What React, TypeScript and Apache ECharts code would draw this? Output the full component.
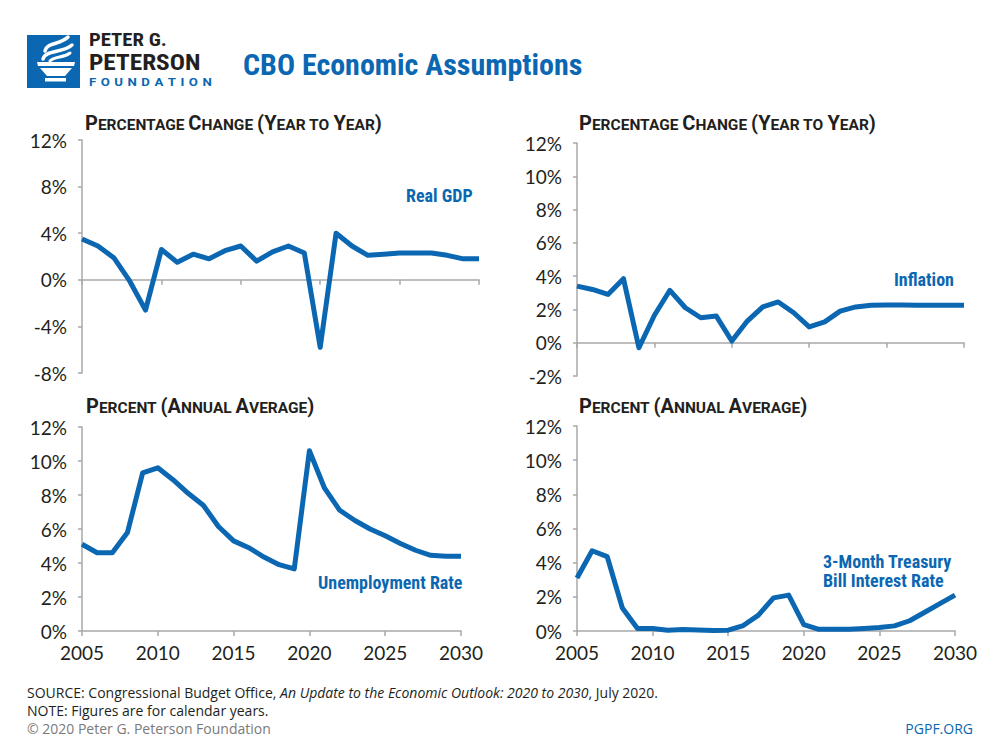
import React, { useEffect, useRef } from "react";
import * as echarts from "echarts";

const years = [2005, 2006, 2007, 2008, 2009, 2010, 2011, 2012, 2013, 2014, 2015, 2016, 2017, 2018, 2019, 2020, 2021, 2022, 2023, 2024, 2025, 2026, 2027, 2028, 2029, 2030];
const realGdp = [3.5, 2.9, 1.9, -0.1, -2.6, 2.6, 1.5, 2.2, 1.8, 2.5, 2.9, 1.6, 2.4, 2.9, 2.3, -5.8, 4.0, 2.9, 2.1, 2.2, 2.3, 2.3, 2.3, 2.1, 1.8, 1.8];
const inflation = [3.4, 3.2, 2.9, 3.85, -0.3, 1.65, 3.15, 2.1, 1.5, 1.6, 0.1, 1.3, 2.15, 2.45, 1.8, 0.95, 1.25, 1.9, 2.15, 2.25, 2.27, 2.27, 2.25, 2.25, 2.25, 2.25];
const unemployment = [5.1, 4.6, 4.6, 5.8, 9.3, 9.6, 8.9, 8.1, 7.4, 6.15, 5.3, 4.9, 4.35, 3.9, 3.65, 10.6, 8.4, 7.1, 6.5, 6.0, 5.6, 5.15, 4.75, 4.45, 4.4, 4.4];
const tBill = [3.1, 4.7, 4.35, 1.35, 0.15, 0.14, 0.05, 0.09, 0.06, 0.03, 0.05, 0.32, 0.93, 1.94, 2.1, 0.37, 0.1, 0.1, 0.1, 0.15, 0.2, 0.3, 0.6, 1.1, 1.6, 2.1];

const gdpTicks = { min: -8, max: 12, interval: 4 };
const inflationTicks = { min: -2, max: 12, interval: 2 };
const rateTicks = { min: 0, max: 12, interval: 2 };
const yearTicks = { min: 2005, max: 2030, interval: 5 };

const BLUE = "#0b67b2";
const DARK = "#231f20";
const GRAY = "#a9a9a9";
const COND = "'Roboto Condensed', 'Liberation Sans Narrow', 'DejaVu Sans Condensed', Roboto, sans-serif";
const WIDE = "Roboto, 'Noto Sans', sans-serif";
const FOOT = "'Open Sans', 'Noto Sans', sans-serif";
const AXISFONT = "Lato, 'Noto Sans', sans-serif";

function pairs(vals: number[]) {
  return years.map((y, i) => [y, vals[i]]);
}

function xAxis(gridIndex: number, showLabel: boolean) {
  return {
    type: "value",
    gridIndex,
    min: yearTicks.min,
    max: yearTicks.max,
    interval: yearTicks.interval,
    axisLine: { show: true, onZero: true, lineStyle: { color: GRAY, width: 1.5 } },
    axisTick: { show: true, length: 5, lineStyle: { color: GRAY, width: 1.5 } },
    splitLine: { show: false },
    axisLabel: {
      show: showLabel,
      formatter: (v: number) => String(v),
      color: DARK,
      fontFamily: AXISFONT,
      fontSize: 19,
      margin: 12,
    },
  };
}

function yAxis(gridIndex: number, t: { min: number; max: number; interval: number }) {
  return {
    type: "value",
    gridIndex,
    min: t.min,
    max: t.max,
    interval: t.interval,
    axisLine: { show: true, lineStyle: { color: GRAY, width: 1.5 } },
    axisTick: { show: true, length: 4, lineStyle: { color: GRAY, width: 1.5 } },
    splitLine: { show: false },
    axisLabel: {
      formatter: (v: number) => v + "%",
      color: DARK,
      fontFamily: AXISFONT,
      fontSize: 19,
      margin: 15,
    },
  };
}

function series(i: number, name: string, vals: number[]) {
  return {
    type: "line",
    name,
    xAxisIndex: i,
    yAxisIndex: i,
    data: pairs(vals),
    showSymbol: false,
    symbol: "none",
    lineStyle: { color: BLUE, width: 5, join: "round" },
    z: 5,
  };
}

function smallCaps(parts: [string, string][]) {
  return parts.map(([a, b]) => (a ? `{a|${a}}` : "") + (b ? `{b|${b}}` : "")).join("");
}

const capsRich = {
  a: { fontFamily: WIDE, fontWeight: "bold", fontSize: 20, fill: DARK, color: DARK, lineHeight: 20, verticalAlign: "bottom" },
  b: { fontFamily: WIDE, fontWeight: "bold", fontSize: 15.5, fill: DARK, color: DARK, lineHeight: 16, verticalAlign: "bottom" },
};

const titleTop = smallCaps([["P", "ERCENTAGE "], ["C", "HANGE "], ["(Y", "EAR TO "], ["Y", "EAR"], [")", ""]]);
const titleBottom = smallCaps([["P", "ERCENT "], ["(A", "NNUAL "], ["A", "VERAGE"], [")", ""]]);

function capsText(x: number, y: number, text: string) {
  return {
    type: "text",
    x,
    y,
    style: { text, rich: capsRich, textVerticalAlign: "bottom", textAlign: "left" },
  };
}

function label(x: number, y: number, text: string) {
  return {
    type: "text",
    x,
    y,
    style: { text, fill: BLUE, font: `bold 18px ${COND}`, textAlign: "left", textVerticalAlign: "middle" },
  };
}

const SP = "\u2004";
const foundation = "FOUNDATION".split("").join(SP);

export default function App() {
  const ref = useRef<HTMLDivElement>(null);
  useEffect(() => {
    if (!ref.current) return;
    const chart = echarts.init(ref.current, null, { renderer: "svg" });
    const white = "#ffffff";
    const option = {
      animation: false,
      backgroundColor: "#ffffff",
      grid: [
        { left: 82, top: 140, width: 397, height: 233 },
        { left: 577, top: 143, width: 387, height: 233 },
        { left: 82, top: 427, width: 379, height: 204 },
        { left: 577, top: 426, width: 378, height: 205 },
      ],
      xAxis: [xAxis(0, false), xAxis(1, false), xAxis(2, true), xAxis(3, true)],
      yAxis: [yAxis(0, gdpTicks), yAxis(1, inflationTicks), yAxis(2, rateTicks), yAxis(3, rateTicks)],
      series: [
        series(0, "Real GDP", realGdp),
        series(1, "Inflation", inflation),
        series(2, "Unemployment Rate", unemployment),
        series(3, "3-Month Treasury Bill Interest Rate", tBill),
      ],
      graphic: [
        // logo
        { type: "rect", shape: { x: 27, y: 35, width: 53, height: 53 }, style: { fill: BLUE } },
        { type: "polygon", shape: { points: [[37, 62], [75, 62], [74, 66], [38, 66]] }, style: { fill: white } },
        { type: "polygon", shape: { points: [[40, 68], [72, 68], [65, 76], [47, 76]] }, style: { fill: white } },
        { type: "rect", shape: { x: 45, y: 78, width: 21, height: 3.5 }, style: { fill: white } },
        { type: "bezierCurve", shape: { x1: 45, y1: 51, cpx1: 47, cpy1: 42, cpx2: 60, cpy2: 45, x2: 68, y2: 37 }, style: { stroke: white, lineWidth: 3.5, fill: null, lineCap: "round" } },
        { type: "bezierCurve", shape: { x1: 43, y1: 59, cpx1: 45, cpy1: 50, cpx2: 63, cpy2: 53, x2: 72, y2: 45 }, style: { stroke: white, lineWidth: 3.5, fill: null, lineCap: "round" } },
        { type: "bezierCurve", shape: { x1: 50, y1: 61, cpx1: 54, cpy1: 56, cpx2: 64, cpy2: 58, x2: 70, y2: 53 }, style: { stroke: white, lineWidth: 3, fill: null, lineCap: "round" } },
        {
          type: "text",
          x: 89,
          y: 29,
          scaleX: 1.15,
          style: {
            text: `{p|PETER G.}\n{q|PETERSON}\n{f|${foundation}}`,
            rich: {
              p: { fontFamily: COND, fontWeight: "bold", fontSize: 18, lineHeight: 21, fill: DARK, color: DARK },
              q: { fontFamily: COND, fontWeight: "bold", fontSize: 22, lineHeight: 26, fill: DARK, color: DARK },
              f: { fontFamily: WIDE, fontWeight: "bold", fontSize: 11.5, lineHeight: 13.5, fill: BLUE, color: BLUE },
            },
            textAlign: "left",
            textVerticalAlign: "top",
          },
        },
        { type: "text", x: 243, y: 64, style: { text: "CBO Economic Assumptions", fill: BLUE, font: `bold 30px ${COND}`, textAlign: "left", textVerticalAlign: "middle" } },
        // panel titles
        capsText(85, 133, titleTop),
        capsText(579, 133, titleTop),
        capsText(86, 416, titleBottom),
        capsText(579, 416, titleBottom),
        // series labels
        label(406, 195, "Real GDP"),
        label(894, 279, "Inflation"),
        label(318, 582, "Unemployment Rate"),
        label(823, 561, "3-Month Treasury"),
        label(823, 580, "Bill Interest Rate"),
        // footer
        {
          type: "text",
          x: 27,
          y: 692,
          style: {
            text: "{n|SOURCE: Congressional Budget Office, }{i|An Update to the Economic Outlook: 2020 to 2030}{n|, July 2020.}",
            rich: {
              n: { fontFamily: FOOT, fontSize: 14, fill: DARK, color: DARK },
              i: { fontFamily: FOOT, fontSize: 14, fontStyle: "italic", fill: DARK, color: DARK },
            },
            textAlign: "left",
            textVerticalAlign: "middle",
          },
        },
        { type: "text", x: 27, y: 710, style: { text: "NOTE: Figures are for calendar years.", fill: DARK, font: `14px ${FOOT}`, textAlign: "left", textVerticalAlign: "middle" } },
        { type: "text", x: 27, y: 728, style: { text: "© 2020 Peter G. Peterson Foundation", fill: "#7a7a7a", font: `14px ${FOOT}`, textAlign: "left", textVerticalAlign: "middle" } },
        { type: "text", x: 973, y: 728, style: { text: "PGPF.ORG", fill: BLUE, font: `14px ${FOOT}`, textAlign: "right", textVerticalAlign: "middle" } },
      ],
    };
    chart.setOption(option as any);
    return () => chart.dispose();
  }, []);
  return (
    <div
      ref={ref}
      style={{ position: "absolute", left: 0, top: 0, width: 1000, height: 750, background: "#fff" }}
    />
  );
}
